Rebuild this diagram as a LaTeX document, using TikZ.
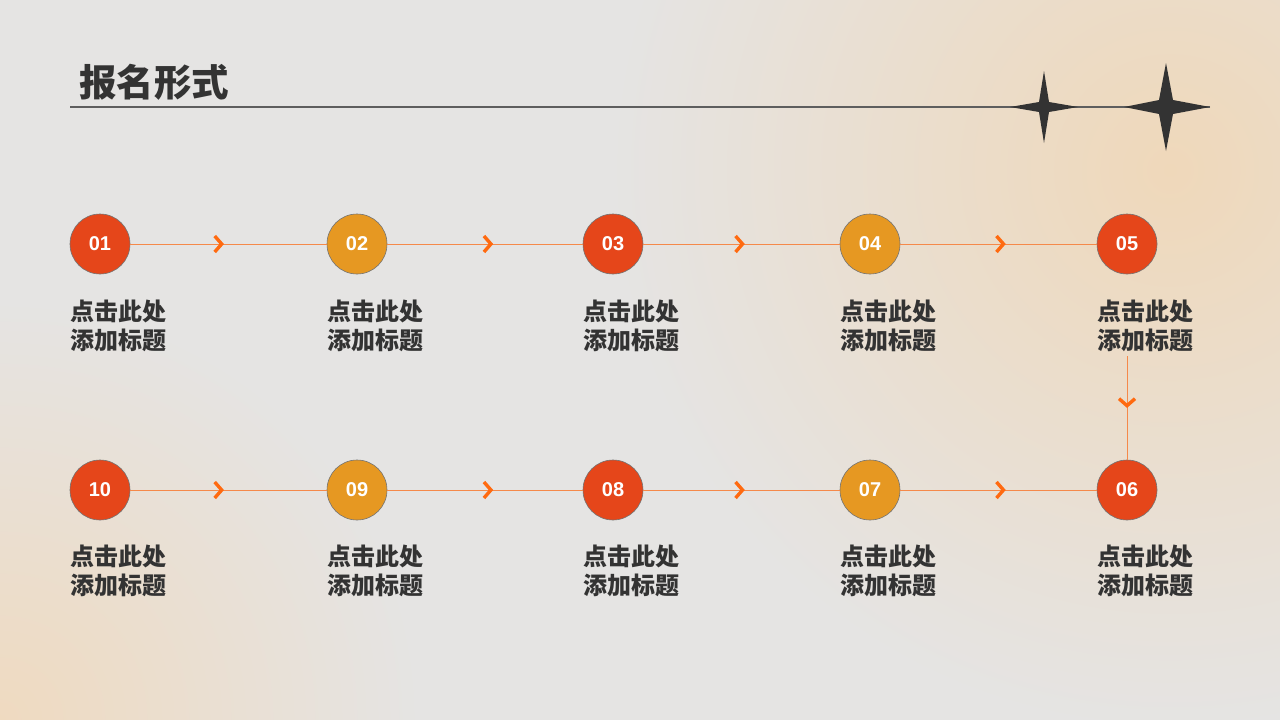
\documentclass[tikz,border=0pt]{standalone}
\usepackage{fontspec}
\setmainfont{Liberation Sans}
\newfontfamily\cjk{Noto Sans CJK SC}
\definecolor{bggray}{HTML}{E5E4E3}
\definecolor{beige}{HTML}{EFD8BA}
\definecolor{beigeb}{HTML}{EFDAC0}
\definecolor{cred}{HTML}{E5461A}
\definecolor{corg}{HTML}{E69822}
\definecolor{cline}{HTML}{F5894A}
\definecolor{cchev}{HTML}{FF6A10}
\definecolor{tdark}{HTML}{333333}
\definecolor{rulec}{HTML}{5E5E5E}
\begin{document}
\begin{tikzpicture}[x=1pt,y=-1pt,
  numc/.style={circle, draw=black!55, line width=0.6pt, minimum size=60pt, inner sep=0pt,
    text=white, font=\bfseries\fontsize{20}{20}\selectfont},
  nred/.style={numc, fill=cred},
  norg/.style={numc, fill=corg},
  conn/.style={draw=cline, line width=1pt},
  lbl/.style={anchor=north west, inner sep=0pt, align=left, text=tdark,
    font=\cjk\bfseries\fontsize{24}{28.5}\selectfont},
  chev/.pic={\draw[cchev, line width=3.4pt, line cap=butt, line join=miter] (-4,-8) -- (3,0) -- (-4,8);},
  chevd/.pic={\draw[cchev, line width=3.4pt, line cap=butt, line join=miter] (-8,-4) -- (0,3) -- (8,-4);},
  starc/.style={fill=tdark}
]
\useasboundingbox (0,0) rectangle (1280,720);
\fill[bggray] (0,0) rectangle (1280,720);
\begin{scope}
\clip (0,0) rectangle (1280,720);
\shade[inner color=beige, outer color=bggray] (1170,170) circle (560);
\shade[inner color=beigeb, outer color=bggray] (0,720) circle (420);
\end{scope}

% title
\node[anchor=west, inner sep=0pt, text=tdark, font=\cjk\bfseries\fontsize{37.5}{37.5}\selectfont] (title) at (79,82) {报名形式};
\coordinate (r0) at (70,107);
\coordinate (r1) at (1210,107);
\draw[rulec, line width=2pt] (r0) -- (r1);
\fill[starc, shift={(1044,107)}] (0,-36) -- (5,-5) -- (34,0) -- (5,5) -- (0,36) -- (-5,5) -- (-34,0) -- (-5,-5) -- cycle;
\fill[starc, shift={(1166,107)}] (0,-44) -- (7,-7) -- (44,0) -- (7,7) -- (0,44) -- (-7,7) -- (-42,0) -- (-7,-7) -- cycle;

% circles
\node[nred] (c1) at (100,244) {01};
\node[norg] (c2) at (357,244) {02};
\node[nred] (c3) at (613,244) {03};
\node[norg] (c4) at (870,244) {04};
\node[nred] (c5) at (1127,244) {05};
\node[nred] (c6) at (1127,490) {06};
\node[norg] (c7) at (870,490) {07};
\node[nred] (c8) at (613,490) {08};
\node[norg] (c9) at (357,490) {09};
\node[nred] (c10) at (100,490) {10};

% labels
\foreach \i/\x in {1/70,2/327,3/583,4/840,5/1097}{
  \node[lbl] (t\i) at (\x,300) {点击此处\\添加标题};
}
\foreach \i/\x in {10/70,9/327,8/583,7/840,6/1097}{
  \node[lbl] (t\i) at (\x,545) {点击此处\\添加标题};
}

% connectors
\draw[conn] (c1) -- (c2) pic[pos=0.45]{chev};
\draw[conn] (c2) -- (c3) pic[pos=0.515]{chev};
\draw[conn] (c3) -- (c4) pic[pos=0.49]{chev};
\draw[conn] (c4) -- (c5) pic[pos=0.51]{chev};
\draw[conn] (c10) -- (c9) pic[pos=0.45]{chev};
\draw[conn] (c9) -- (c8) pic[pos=0.515]{chev};
\draw[conn] (c8) -- (c7) pic[pos=0.49]{chev};
\draw[conn] (c7) -- (c6) pic[pos=0.51]{chev};
\coordinate (v5) at (1127,356);
\draw[conn] (v5) -- (c6) pic[pos=0.45]{chevd};
\end{tikzpicture}
\end{document}
